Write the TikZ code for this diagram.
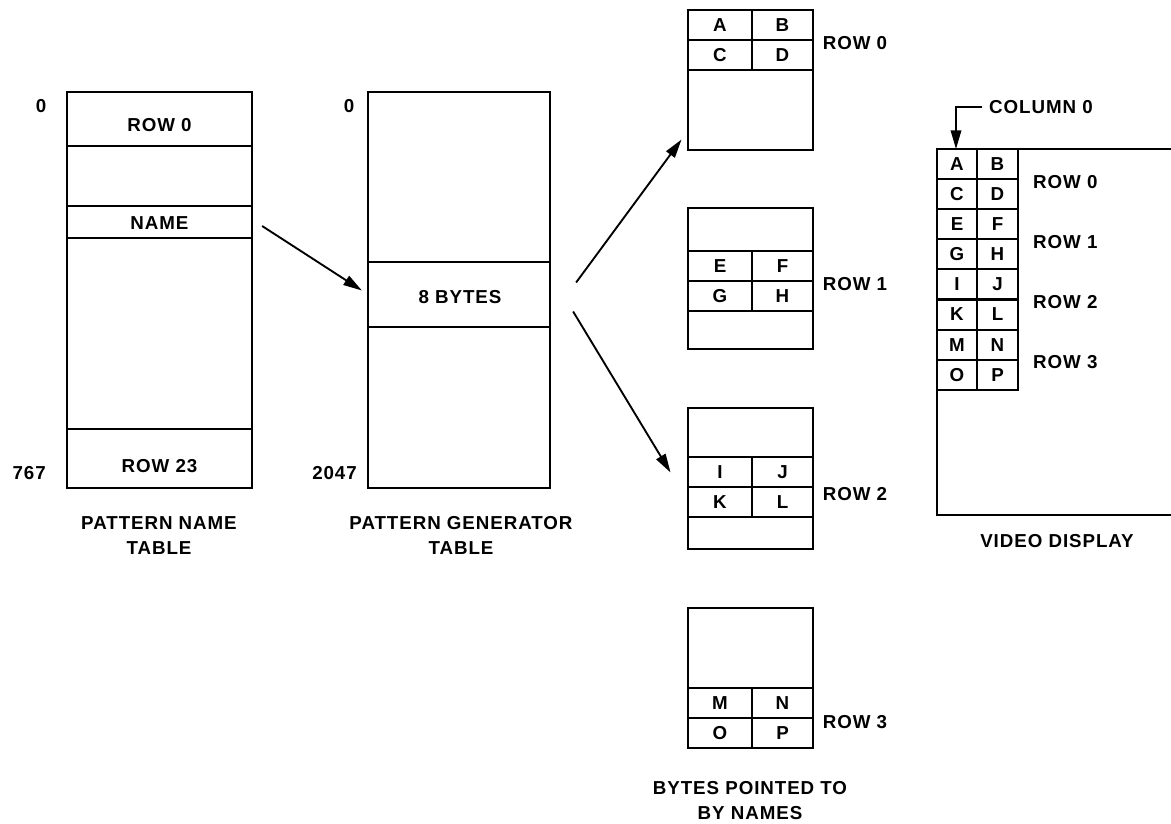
\documentclass[tikz,border=0pt]{standalone}
\usepackage{fontspec}
\setmainfont{Liberation Sans}[LetterSpace=5]
\usetikzlibrary{arrows.meta}
\begin{document}
\begin{tikzpicture}[x=0.03cm,y=-0.03cm,
  every node/.style={font=\fontsize{16}{21.3}\selectfont\bfseries, inner sep=0pt},
  outer/.style={draw, line width=2.5pt, minimum width=#1},
  band/.style={draw, line width=1.9pt, minimum width=#1},
  bcell/.style={draw, line width=1.8pt, minimum height=0.9cm},
  vcell/.style={draw, line width=1.8pt, minimum height=0.903cm},
  lbl/.style={align=center},
  arr/.style={line width=1.6pt, -{Triangle[length=16pt,width=9pt]}}
]
\useasboundingbox (0,0) rectangle (1171,824);

% ---------- Pattern name table ----------
\node[outer=5.55cm, minimum height=11.88cm] (pnt) at (159.5,290) {};
\node[band=5.55cm, minimum height=1.62cm] (pr0) at (159.5,119) {};
\node[band=5.55cm, minimum height=0.96cm] (name) at (159.5,222) {};
\node[band=5.55cm, minimum height=1.77cm] (pr23) at (159.5,458.5) {};
\node (tr0) at (159.5,125) {ROW 0};
\node (tname) at (159.5,223) {NAME};
\node (tr23) at (159.5,466) {ROW 23};
\node (n0a) at (41,106) {0};
\node[anchor=east] (n767) at (46,473) {767};
\node[lbl] (cap1) at (159,535.5) {PATTERN NAME\\TABLE};

% ---------- Pattern generator table ----------
\node[outer=5.46cm, minimum height=11.88cm] (pgt) at (459,290) {};
\node[band=5.46cm, minimum height=1.95cm] (bytes) at (459,294.5) {};
\node (tbytes) at (460,297) {8 BYTES};
\node (n0b) at (349,106) {0};
\node[anchor=east] (n2047) at (357,473) {2047};
\node[lbl] (cap2) at (461,535.5) {PATTERN GENERATOR\\TABLE};

% ---------- Byte groups ----------
\node[outer=3.75cm, minimum height=4.2cm] (box0) at (750.5,80) {};
\node[bcell, minimum width=1.92cm] (cA) at (720,25) {A};
\node[bcell, minimum width=1.83cm] (cB) at (782.5,25) {B};
\node[bcell, minimum width=1.92cm] (cC) at (720,55) {C};
\node[bcell, minimum width=1.83cm] (cD) at (782.5,55) {D};
\node (r0) at (855,43) {ROW 0};

\node[outer=3.75cm, minimum height=4.23cm] (box1) at (750.5,278.5) {};
\node[bcell, minimum width=1.92cm] (cE) at (720,266) {E};
\node[bcell, minimum width=1.83cm] (cF) at (782.5,266) {F};
\node[bcell, minimum width=1.92cm] (cG) at (720,296) {G};
\node[bcell, minimum width=1.83cm] (cH) at (782.5,296) {H};
\node (r1) at (855,284) {ROW 1};

\node[outer=3.75cm, minimum height=4.23cm] (box2) at (750.5,478.5) {};
\node[bcell, minimum width=1.92cm] (cI) at (720,472) {I};
\node[bcell, minimum width=1.83cm] (cJ) at (782.5,472) {J};
\node[bcell, minimum width=1.92cm] (cK) at (720,502) {K};
\node[bcell, minimum width=1.83cm] (cL) at (782.5,502) {L};
\node (r2) at (855,494) {ROW 2};

\node[outer=3.75cm, minimum height=4.2cm] (box3) at (750.5,678) {};
\node[bcell, minimum width=1.92cm] (cM) at (720,703) {M};
\node[bcell, minimum width=1.83cm] (cN) at (782.5,703) {N};
\node[bcell, minimum width=1.92cm] (cO) at (720,733) {O};
\node[bcell, minimum width=1.83cm] (cP) at (782.5,733) {P};
\node (r3) at (855,722) {ROW 3};

\node[lbl] (cap3) at (750,800.5) {BYTES POINTED TO\\BY NAMES};

% ---------- Arrows ----------
\draw[arr] ([shift={(9,4)}]name.east) -- ([shift={(-5,-4)}]bytes.west);
\draw[arr] ([shift={(25,-12)}]bytes.east) -- ([shift={(-5,-12)}]box0.south west);
\draw[arr] ([shift={(22,17)}]bytes.east) -- ([shift={(-16,-6)}]box2.west);

% ---------- Video display ----------
\coordinate (vtr) at (1172,149);
\coordinate (vtl) at (937,149);
\coordinate (vbl) at (937,515);
\coordinate (vbr) at (1172,515);
\draw[line width=2.5pt] (vtr) -- (vtl) -- (vbl) -- (vbr);
\foreach \l/\r [count=\i from 0] in {A/B,C/D,E/F,G/H,I/J,K/L,M/N,O/P}{
  \node[vcell, minimum width=1.2cm] (v\l) at (957,{149+30.1*\i+15.05}) {\l};
  \node[vcell, minimum width=1.23cm] (v\r) at (997.5,{149+30.1*\i+15.05}) {\r};
}
\node[anchor=west] (vr0) at (1033,182) {ROW 0};
\node[anchor=west] (vr1) at (1033,242) {ROW 1};
\node[anchor=west] (vr2) at (1033,302) {ROW 2};
\node[anchor=west] (vr3) at (1033,362) {ROW 3};
\node[anchor=west] (col0) at (989,107) {COLUMN 0};
\coordinate (c0tip) at (956,149);
\draw[arr] ([xshift=-0.2cm]col0.west) -| (c0tip);
\node (cap4) at (1057,541) {VIDEO DISPLAY};
\end{tikzpicture}
\end{document}
